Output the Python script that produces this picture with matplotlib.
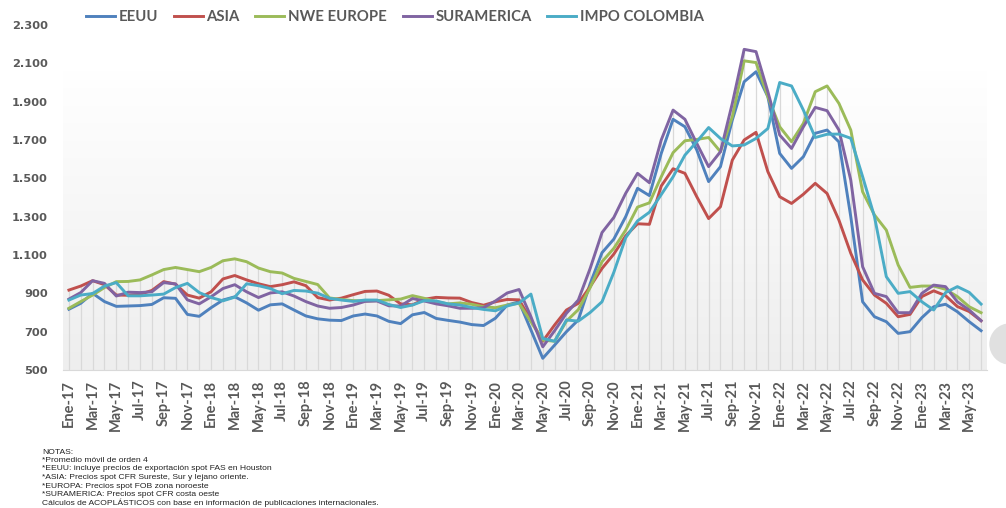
import matplotlib.pyplot as plt
import numpy as np
from matplotlib.colors import LinearSegmentedColormap
from matplotlib.patches import Ellipse

# meses (Ene-17 ... Jun-23)
meses = ["Ene", "Feb", "Mar", "Abr", "May", "Jun", "Jul", "Ago", "Sep", "Oct", "Nov", "Dic"]
fechas = [f"{m}-{a}" for a in range(17, 24) for m in meses][:78]

eeuu = [817, 848, 900, 857, 832, 834, 836, 842, 877, 874,
        790, 780, 825, 865, 882, 850, 812, 840, 845, 813,
        782, 767, 760, 758, 782, 792, 782, 754, 742, 788,
        800, 769, 759, 750, 737, 732, 770, 839, 856, 709,
        561, 630, 700, 761, 950, 1112, 1183, 1300, 1448, 1410,
        1630, 1808, 1769, 1648, 1483, 1561, 1804, 2004, 2056, 1926,
        1630, 1552, 1613, 1735, 1752, 1690, 1300, 856, 778, 752,
        691, 700, 773, 830, 843, 804, 752, 705]

asia = [917, 938, 966, 945, 891, 890, 895, 915, 961, 948,
        891, 875, 908, 975, 993, 970, 950, 935, 945, 960,
        940, 878, 865, 875, 893, 910, 912, 890, 845, 840,
        869, 879, 876, 875, 852, 838, 856, 868, 866, 761,
        650, 735, 813, 848, 935, 1030, 1105, 1200, 1263, 1260,
        1460, 1550, 1526, 1404, 1290, 1352, 1595, 1700, 1740, 1535,
        1404, 1369, 1417, 1474, 1421, 1282, 1109, 970, 891, 848,
        778, 790, 883, 913, 888, 831, 805, 757]

nwe_europe = [822, 857, 891, 930, 961, 962, 970, 996, 1024, 1035,
              1024, 1013, 1035, 1070, 1080, 1065, 1032, 1013, 1006, 978,
              962, 946, 876, 868, 862, 860, 862, 866, 870, 888,
              874, 857, 845, 850, 843, 830, 825, 839, 848, 752,
              656, 650, 755, 815, 930, 1065, 1135, 1230, 1350, 1372,
              1508, 1634, 1696, 1703, 1713, 1639, 1821, 2113, 2104, 1926,
              1769, 1691, 1787, 1952, 1982, 1891, 1752, 1430, 1309, 1230,
              1048, 931, 938, 938, 921, 883, 830, 799]

suramerica = [870, 904, 966, 952, 886, 906, 904, 908, 956, 949,
              866, 845, 882, 925, 945, 908, 878, 902, 908, 886,
              857, 834, 822, 826, 839, 858, 860, 835, 834, 873,
              860, 845, 835, 822, 822, 825, 860, 902, 920, 778,
              621, 705, 796, 865, 1030, 1217, 1296, 1422, 1526, 1477,
              1700, 1856, 1808, 1682, 1561, 1639, 1891, 2173, 2161, 1952,
              1726, 1656, 1769, 1870, 1853, 1752, 1491, 1039, 900, 883,
              799, 799, 900, 943, 935, 856, 813, 757]

impo_colombia = [865, 891, 899, 938, 956, 887, 887, 891, 896, 930,
                 952, 904, 878, 861, 880, 950, 940, 925, 898, 915,
                 912, 901, 874, 865, 858, 865, 865, 842, 826, 839,
                 862, 860, 845, 839, 826, 816, 809, 834, 850, 896,
                 665, 650, 761, 755, 800, 856, 1010, 1190, 1278, 1323,
                 1415, 1508, 1621, 1691, 1765, 1708, 1669, 1674, 1708, 1760,
                 2000, 1982, 1856, 1713, 1730, 1731, 1709, 1509, 1300, 987,
                 900, 909, 856, 813, 904, 935, 905, 844]

series = {
    "EEUU": (eeuu, "#4F81BD"),
    "ASIA": (asia, "#C0504D"),
    "NWE EUROPE": (nwe_europe, "#9BBB59"),
    "SURAMERICA": (suramerica, "#8064A2"),
    "IMPO COLOMBIA": (impo_colombia, "#4BACC6"),
}

notas = [
    "NOTAS:",
    "*Promedio móvil de orden 4",
    "*EEUU: incluye precios de exportación spot FAS en Houston",
    "*ASIA: Precios spot CFR Sureste, Sur y lejano oriente.",
    "*EUROPA: Precios spot FOB zona noroeste",
    "*SURAMERICA: Precios spot CFR costa oeste",
    "Cálculos de ACOPLÁSTICOS con base en información de publicaciones internacionales.",
]

gris = "#595959"
W, H = 1006, 508
fig = plt.figure(figsize=(W / 100, H / 100), dpi=100)
ax = fig.add_axes([63 / W, 1 - 370 / H, (987 - 63) / W, (370 - 25) / H])

x = np.arange(len(fechas))
ax.set_xlim(-0.5, len(fechas) - 0.5)
ax.set_ylim(500, 2300)

# fondo degradado
grad = np.linspace(1, 0, 256).reshape(-1, 1)
cmap = LinearSegmentedColormap.from_list("fondo", ["#eeeeee", "#ffffff"])
ax.imshow(grad, extent=(-0.5, len(fechas) - 0.5, 500, 2065), aspect="auto",
          cmap=cmap, vmin=0, vmax=1, zorder=0)

# lineas de caida
tope = np.max([v for v, c in series.values()], axis=0)
ax.vlines(x, 500, tope, color="#d9d9d9", lw=0.9, zorder=1)

for nombre, (valores, color) in series.items():
    ax.plot(x, valores, color=color, lw=2.1, label=nombre, zorder=3,
            solid_joinstyle="round")

ax.set_xticks(x[::2])
ax.set_xticklabels(fechas[::2], rotation=90, fontfamily="Lato",
                   fontweight="bold", fontsize=10.5, color=gris)
yt = list(range(500, 2301, 200))
ax.set_yticks(yt)
ax.set_yticklabels([f"{v:,}".replace(",", ".") for v in yt],
                   fontfamily="DejaVu Sans", fontweight="bold", fontsize=8.2, color=gris)
ax.tick_params(axis="x", length=0, pad=7)
ax.tick_params(axis="y", length=0, pad=11)
for s in ["top", "right", "left"]:
    ax.spines[s].set_visible(False)
ax.spines["bottom"].set_color("#d9d9d9")
ax.spines["bottom"].set_zorder(2)

fig.legend(loc="center left", bbox_to_anchor=(86 / W, 1 - 17 / H), ncol=5,
           frameon=False, borderpad=0, borderaxespad=0,
           prop={"family": "Lato", "weight": "bold", "size": 10.7},
           labelcolor=gris, handlelength=1.95, handletextpad=0.25,
           columnspacing=1.05)

for k, linea in enumerate(notas):
    fig.text(42 / W, 1 - (452 + 8.5 * k) / H, linea, fontsize=6.1,
             fontfamily="Liberation Sans", va="center", ha="left", color="#222222")

fig.add_artist(Ellipse((1010 / W, 1 - 344 / H), 40 / W, 40 / H,
                       transform=fig.transFigure, color="#e0e0e0"))

fig.savefig("out.png", dpi=100)
